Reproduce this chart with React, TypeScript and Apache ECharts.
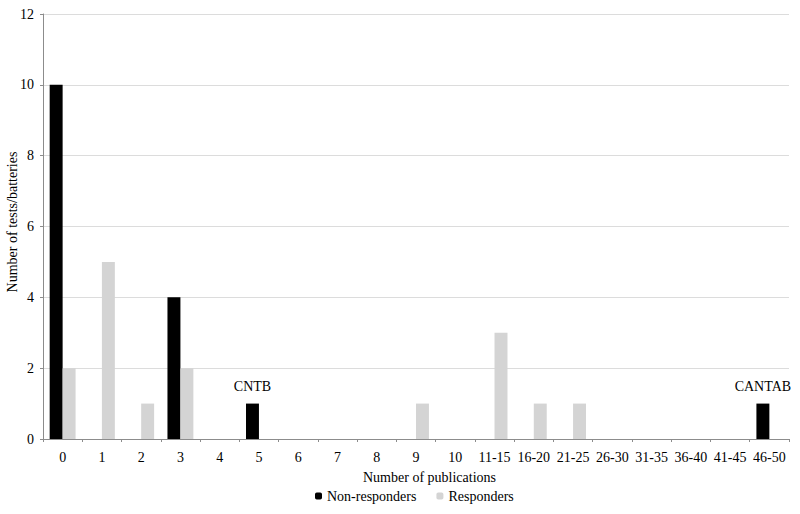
import React, { useEffect, useRef } from "react";
import * as echarts from "echarts";

const categories = ["0","1","2","3","4","5","6","7","8","9","10","11-15","16-20","21-25","26-30","31-35","36-40","41-45","46-50"];
const nonResponders = [10,0,0,4,0,1,0,0,0,0,0,0,0,0,0,0,0,0,1];
const responders = [2,5,1,2,0,0,0,0,0,1,0,3,1,1,0,0,0,0,0];
const barLabels: Record<number, string> = { 5: "CNTB", 18: "CANTAB" };
const xAxisTitle = "Number of publications";
const yAxisTitle = "Number of tests/batteries";

const FONT = "'Liberation Serif', serif";

export default function App() {
  const ref = useRef<HTMLDivElement>(null);
  useEffect(() => {
    if (!ref.current) return;
    const chart = echarts.init(ref.current, null, { renderer: "svg" });
    chart.setOption({
      animation: false,
      textStyle: { fontFamily: FONT, color: "#000" },
      grid: { left: 43, right: 11, top: 14, bottom: 75, containLabel: false, outerBoundsMode: "none" },
      legend: {
        bottom: 6,
        left: 310,
        itemWidth: 7,
        itemHeight: 7,
        itemGap: 20,
        textStyle: { fontFamily: FONT, fontSize: 14, color: "#000" },
        data: ["Non-responders", "Responders"],
      },
      graphic: [
        {
          type: "text",
          left: 363,
          top: 470,
          style: { text: xAxisTitle, fontFamily: FONT, fontSize: 14, fill: "#000" },
        },
        {
          type: "text",
          x: 12,
          y: 222,
          rotation: Math.PI / 2,
          style: { text: yAxisTitle, fontFamily: FONT, fontSize: 14, fill: "#000", align: "center", verticalAlign: "middle" },
        },
      ],
      xAxis: {
        type: "category",
        data: categories,
        axisLine: { lineStyle: { color: "#8c8c8c" } },
        axisTick: { show: true, length: 3, lineStyle: { color: "#8c8c8c" } },
        axisLabel: { fontFamily: FONT, fontSize: 14, color: "#000", margin: 11, interval: 0 },
      },
      yAxis: {
        type: "value",
        min: 0,
        max: 12,
        interval: 2,
        axisLine: { show: true, lineStyle: { color: "#8c8c8c" } },
        axisTick: { show: true, length: 3, lineStyle: { color: "#8c8c8c" } },
        splitLine: { lineStyle: { color: "#dcdcdc" } },
        axisLabel: { fontFamily: FONT, fontSize: 14, color: "#000", margin: 9 },
      },
      series: [
        {
          name: "Non-responders",
          type: "bar",
          data: nonResponders.map((v, i) =>
            barLabels[i]
              ? { value: v, label: { show: true, position: "top", formatter: barLabels[i], fontFamily: FONT, fontSize: 14, color: "#000", distance: 10 } }
              : v
          ),
          itemStyle: { color: "#000000" },
          barGap: "0%",
          barCategoryGap: "34%",
        },
        {
          name: "Responders",
          type: "bar",
          data: responders,
          itemStyle: { color: "#d4d4d4" },
        },
      ],
    });
    return () => chart.dispose();
  }, []);
  return <div ref={ref} style={{ width: 800, height: 514, position: "absolute", left: 0, top: 0, background: "#fff" }} />;
}
